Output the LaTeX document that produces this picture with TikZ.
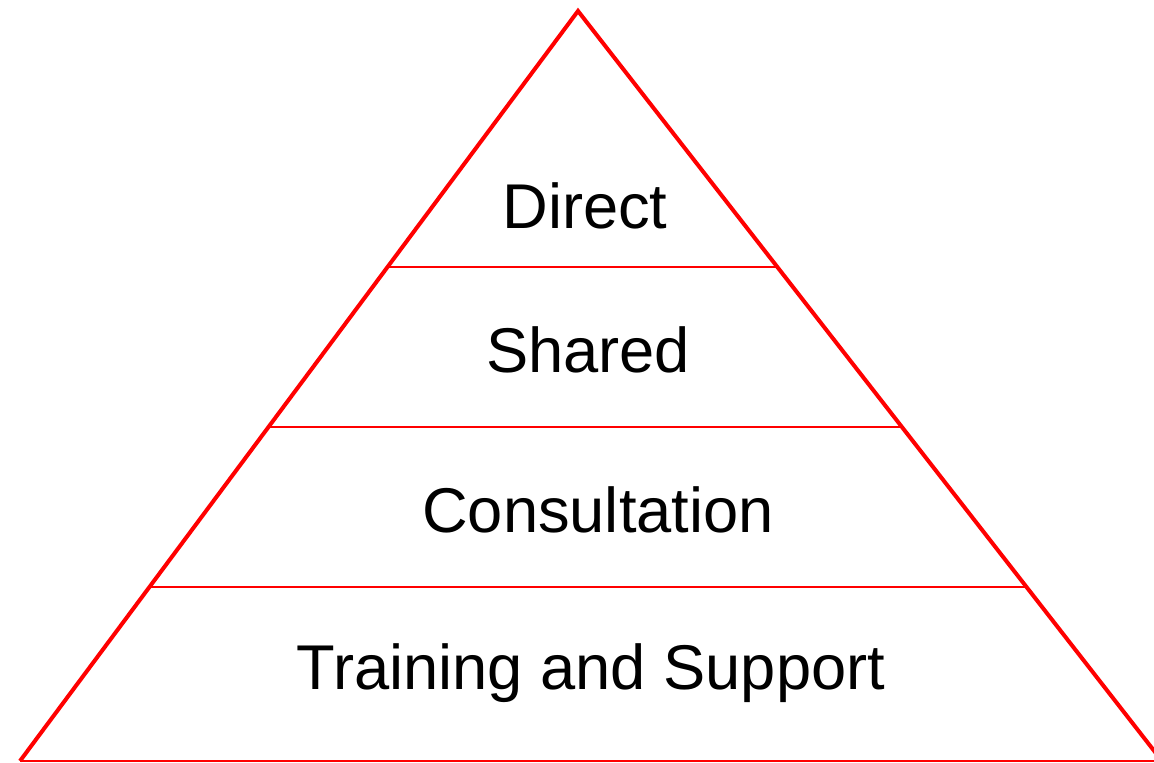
\documentclass[tikz,border=0pt]{standalone}
\usepackage{fontspec}
\setmainfont{Liberation Sans}
\usetikzlibrary{calc}

\begin{document}
\begin{tikzpicture}[x=0.02cm, y=-0.02cm,
	side/.style={draw=red, line width=4*0.02cm},
	level/.style={draw=red, line width=2*0.02cm},
	tier/.style={font=\fontsize{36}{40}\selectfont, inner sep=0pt}]
	\useasboundingbox (0,0) rectangle (1154,763);
	\clip (0,0) rectangle (1154,763);
	\coordinate (top) at (578,11);
	\coordinate (left) at (20,761);
	\coordinate (right) at (1162,761);
	
	\draw[side] (left) -- (top) -- (right);
	\draw[level] (left) -- (right);
	\foreach \t/\n in {0.341/a, 0.555/b, 0.768/c}{
		\coordinate (l\n) at ($(top)!\t!(left)$);
		\coordinate (r\n) at ($(top)!\t!(right)$);
		\draw[level] (l\n) -- (r\n);
	}
	
	\node[tier] (direct) at (585,206) {Direct};
	\node[tier] (shared) at (588,350) {Shared};
	\node[tier] (consult) at (598,510) {Consultation};
	\node[tier] (training) at (591,673) {Training and Support};
\end{tikzpicture}
\end{document}
